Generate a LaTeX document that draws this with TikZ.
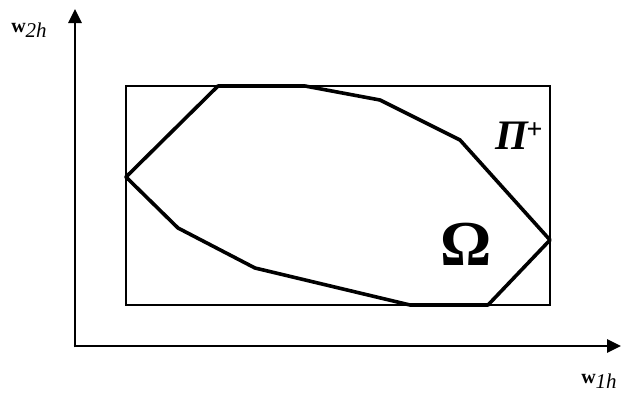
\documentclass[tikz,border=0pt]{standalone}
\usepackage{fontspec}
\setmainfont{Liberation Serif}
\usetikzlibrary{arrows.meta}
\begin{document}
\begin{tikzpicture}[x=1pt,y=-1pt,
  axis/.style={line width=2.6pt,-{Triangle[length=14pt,width=13pt]}},
  thinbox/.style={line width=1.4pt},
  poly/.style={line width=3.6pt,line join=round}]
\useasboundingbox (0,0) rectangle (622,397);
\coordinate (O) at (75,346);
\coordinate (Y) at (75,9);
\coordinate (X) at (621,346);
\draw[axis] (75,347.3) -- (Y);
\draw[axis] (73.7,346) -- (X);
\draw[thinbox] (126,86) rectangle (550,305);
\draw[poly] (126,177) -- (218,86) -- (305,86) -- (380,100) -- (460,140) -- (550,240) -- (488,305) -- (410,305) -- (255,268) -- (178,228) -- cycle;
\node[inner sep=0pt] (wy) at (29,30) {\fontsize{20}{20}\selectfont\textbf{w}\raisebox{-5pt}{\fontsize{21}{21}\selectfont\textit{2h}}};
\node[inner sep=0pt] (wx) at (599,381) {\fontsize{20}{20}\selectfont\textbf{w}\raisebox{-5pt}{\fontsize{21}{21}\selectfont\textit{1h}}};
\node[inner sep=0pt,font=\fontsize{42}{42}\selectfont\bfseries\itshape] (pi) at (519,136) {Π\kern-2pt\raisebox{11pt}{\fontsize{28}{28}\selectfont\bfseries +}};
\node[inner sep=0pt,font=\fontsize{64}{64}\selectfont\bfseries] (om) at (466,244) {Ω};
\end{tikzpicture}
\end{document}
